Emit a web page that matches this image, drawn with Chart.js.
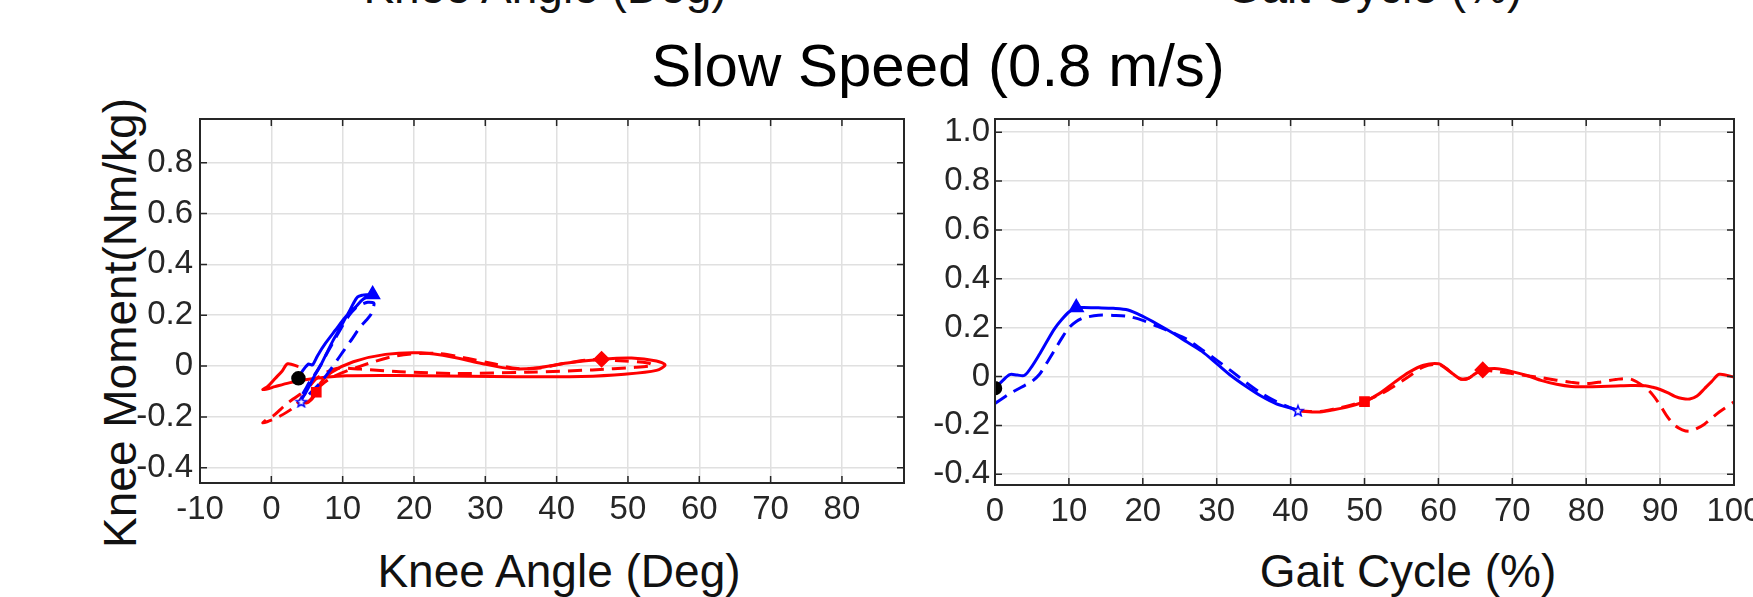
<!DOCTYPE html>
<html>
<head>
<meta charset="utf-8">
<title>Knee moment - slow speed</title>
<script src="https://cdn.jsdelivr.net/npm/chart.js@4.4.1/dist/chart.umd.min.js"></script>
<style>
  html, body { margin: 0; padding: 0; background: #fff; }
  body {
    position: relative; width: 1753px; height: 597px; overflow: hidden;
    font-family: "Liberation Sans", Arial, Helvetica, sans-serif; color: #111;
  }
  canvas { position: absolute; top: 0; }
  #loopChart { left: 0; }
  #cycleChart { left: 900px; }
  .txt { position: absolute; white-space: nowrap; line-height: 1; }
  .axisTitle { font-size: 46px; transform: translateX(-50%); }
  #mainTitle { font-size: 60px; left: 938px; top: 36px; transform: translateX(-50%); color: #000; }
  #angleTitle { left: 559px; top: 548px; }
  #cycleTitle { left: 1408px; top: 548px; }
  #prevAngleTitle { left: 545px; top: -36px; }
  #prevCycleTitle { left: 1374px; top: -36px; }
  #momentTitle { font-size: 46px; left: 120px; top: 323px; transform: translate(-50%, -50%) rotate(-90deg); }
</style>
</head>
<body>
<div class="txt axisTitle" id="prevAngleTitle">Knee Angle (Deg)</div>
<div class="txt axisTitle" id="prevCycleTitle">Gait Cycle (%)</div>
<div class="txt" id="mainTitle">Slow Speed (0.8 m/s)</div>
<div class="txt" id="momentTitle">Knee Moment(Nm/kg)</div>
<div class="txt axisTitle" id="angleTitle">Knee Angle (Deg)</div>
<div class="txt axisTitle" id="cycleTitle">Gait Cycle (%)</div>

<canvas id="loopChart" width="940" height="597"></canvas>
<canvas id="cycleChart" width="853" height="597"></canvas>

<script>
// gait cycle samples (%), shared by both panels
const gaitPct = [
  0, 1, 2, 3, 4, 5, 6, 7, 8, 9, 10, 11, 12, 14, 16, 18, 20, 22, 24, 26, 28, 30, 32, 34, 36, 38, 40, 41,
  42, 44, 46, 48, 50, 52, 54, 56, 58, 60, 61, 62, 63, 64, 65, 66, 68, 70, 72, 74, 76, 78, 80, 82, 84, 86, 88,
  89, 90, 91, 92, 93, 94, 95, 96, 97, 98, 100
];

// knee moment (Nm/kg)
const momentSolid = [
  -0.048, -0.018, 0.008, 0.006, 0.005, 0.042, 0.090, 0.142, 0.193, 0.232, 0.264, 0.282, 0.282,
  0.281, 0.279, 0.272, 0.246, 0.214, 0.179, 0.141, 0.103, 0.053, 0.002, -0.041, -0.080, -0.111, -0.129, -0.138,
  -0.143, -0.145, -0.135, -0.122, -0.103, -0.070, -0.025, 0.017, 0.046, 0.052,
  0.035, 0.010, -0.010, -0.008, 0.012, 0.027,
  0.032, 0.020, 0.004, -0.017, -0.032, -0.041, -0.042, -0.041, -0.039, -0.037, -0.038,
  -0.044, -0.053, -0.066, -0.081, -0.090, -0.092, -0.080, -0.050, -0.020, 0.009, -0.002
];
const momentDashed = [
  -0.110, -0.090, -0.070, -0.053, -0.037, -0.020, 0.008, 0.055, 0.105, 0.155, 0.199, 0.225, 0.240,
  0.251, 0.250, 0.246, 0.230, 0.205, 0.180, 0.152, 0.110, 0.067, 0.022, -0.025, -0.068, -0.102, -0.128, -0.138,
  -0.142, -0.143, -0.132, -0.118, -0.100, -0.075, -0.040, 0.000, 0.040, 0.050,
  0.033, 0.010, -0.010, -0.008, 0.010, 0.025,
  0.020, 0.012, 0.003, -0.005, -0.015, -0.024, -0.029, -0.022, -0.012, -0.010, -0.045,
  -0.075, -0.117, -0.165, -0.200, -0.218, -0.224, -0.212, -0.195, -0.170, -0.145, -0.104
];

// knee angle (deg)
const angleSolid = [
  3.8, 4.4, 5.2, 5.5, 5.8, 6.5, 7.6, 9.0, 10.4, 11.8, 12.9, 14.2, 14.1,
  13.5, 12.8, 12.1, 11.5, 10.9, 10.2, 9.5, 8.7, 7.8, 6.9, 6.0, 5.3, 4.7, 4.3, 4.2,
  4.5, 5.0, 5.5, 5.9, 6.3, 6.8, 8.4, 11.5, 16.0, 21.0,
  25.5, 29.5, 33.5, 37.0, 41.5, 46.3,
  50.5, 54.0, 55.2, 54.0, 49.5, 43.5, 37.5, 31.0, 24.5, 17.5, 10.5,
  7.5, 5.0, 2.5, 0.5, -0.6, -1.2, -0.5, 0.5, 1.5, 2.3, 3.8
];
const angleDashed = [
  4.4, 4.8, 5.2, 5.6, 6.0, 6.4, 7.0, 7.9, 8.9, 9.9, 10.9, 11.7, 12.5,
  13.5, 14.2, 14.4, 14.3, 14.0, 13.3, 12.4, 11.4, 10.3, 9.2, 8.0, 6.8, 5.6, 4.7, 4.3,
  4.6, 5.0, 5.5, 5.9, 6.3, 7.0, 8.8, 12.5, 17.5, 23.0,
  27.0, 31.0, 34.5, 37.5, 41.0, 45.0,
  49.5, 52.8, 53.5, 51.0, 45.0, 36.0, 26.0, 18.0, 12.5, 9.0, 6.5,
  5.5, 4.5, 3.0, 1.0, -0.5, -1.2, -0.7, 0.3, 1.3, 2.3, 4.4
];

// stance ends at this percentage (blue before, red after)
const stanceEndPct = 41;
// gait events marked on the solid curve
const eventPct = [0, 11, 41, 50, 66];

// tick values
const angleTicks = [-10, 0, 10, 20, 30, 40, 50, 60, 70, 80];
const loopMomentTicks = [-0.4, -0.2, 0, 0.2, 0.4, 0.6, 0.8];
const cycleTicks = [0, 10, 20, 30, 40, 50, 60, 70, 80, 90, 100];
const cycleMomentTicks = [-0.4, -0.2, 0, 0.2, 0.4, 0.6, 0.8, 1.0];

const FONT = '"Liberation Sans", Arial, Helvetica, sans-serif';
const INK = '#262626';
const BLUE = '#0000ff';
const RED = '#ff0000';

const split = gaitPct.indexOf(stanceEndPct);

function points(xs, ys, from, to) {
  const out = [];
  for (let i = from; i < to; i++) out.push({ x: xs[i], y: ys[i] });
  return out;
}

function lineSet(data, color, dashed) {
  return {
    data,
    showLine: true,
    borderColor: color,
    borderWidth: 3,
    borderDash: dashed ? [14, 8] : [],
    pointRadius: 0,
    pointHoverRadius: 0,
    tension: 0.3,
    fill: false,
    order: 2,
  };
}

// small five-pointed star, outlined, used for the toe-off marker
function pentagram(size, stroke) {
  const c = document.createElement('canvas');
  c.width = c.height = size;
  const g = c.getContext('2d');
  const r = size / 2 - 1.5;
  const cx = size / 2, cy = size / 2 + 1;
  g.beginPath();
  for (let k = 0; k < 10; k++) {
    const rad = k % 2 === 0 ? r : r * 0.42;
    const ang = -Math.PI / 2 + k * Math.PI / 5;
    g.lineTo(cx + rad * Math.cos(ang), cy + rad * Math.sin(ang));
  }
  g.closePath();
  g.fillStyle = '#fff';
  g.fill();
  g.strokeStyle = stroke;
  g.lineWidth = 1.5;
  g.stroke();
  return c;
}

const markerLook = [
  { pointStyle: 'circle', pointRadius: 6.5, backgroundColor: '#000', borderColor: '#000' },
  { pointStyle: 'triangle', pointRadius: 8, backgroundColor: BLUE, borderColor: BLUE },
  { pointStyle: pentagram(14, BLUE), pointRadius: 7 },
  { pointStyle: 'rect', pointRadius: 6.5, backgroundColor: RED, borderColor: RED },
  { pointStyle: 'rectRot', pointRadius: 7.5, backgroundColor: RED, borderColor: RED },
];

function markerSets(xs, ys) {
  return eventPct.map((pct, k) => {
    const i = gaitPct.indexOf(pct);
    return Object.assign({
      data: [{ x: xs[i], y: ys[i] }],
      showLine: false,
      borderWidth: 1.5,
      order: 0,
    }, markerLook[k]);
  });
}

function buildDatasets(xSolid, xDashed) {
  const n = gaitPct.length;
  return [
    lineSet(points(xSolid, momentSolid, 0, split + 1), BLUE, false),
    lineSet(points(xDashed, momentDashed, 0, split + 1), BLUE, true),
    lineSet(points(xSolid, momentSolid, split, n), RED, false),
    lineSet(points(xDashed, momentDashed, split, n), RED, true),
    ...markerSets(xSolid, momentSolid),
  ];
}

const fmtMoment = v => (v === 0 ? '0' : v.toFixed(1));
const fmtPlain = v => String(v);

function axis(min, max, values, fmt, fixed, isX, pad) {
  return {
    type: 'linear',
    min,
    max,
    afterBuildTicks: s => { s.ticks = values.map(value => ({ value })); },
    afterFit: s => {
      if (isX) { s.height = fixed; s.paddingLeft = 0; s.paddingRight = 0; }
      else { s.width = fixed; s.paddingTop = 0; s.paddingBottom = 0; }
    },
    grid: { color: '#e0e0e0', lineWidth: 1.5, drawTicks: false },
    border: { display: false },
    ticks: {
      autoSkip: false, maxRotation: 0, padding: pad, color: INK,
      font: { family: FONT, size: 33 }, callback: fmt,
    },
  };
}

// box around the plot area with inward tick marks on all four sides
const boxFrame = {
  id: 'boxFrame',
  afterDraw(chart) {
    const { ctx, chartArea: a, scales: { x, y } } = chart;
    const len = 7;
    ctx.save();
    ctx.strokeStyle = INK;
    ctx.lineWidth = 1.5;
    ctx.beginPath();
    x.ticks.forEach(t => {
      const px = x.getPixelForValue(t.value);
      ctx.moveTo(px, a.bottom); ctx.lineTo(px, a.bottom - len);
      ctx.moveTo(px, a.top); ctx.lineTo(px, a.top + len);
    });
    y.ticks.forEach(t => {
      const py = y.getPixelForValue(t.value);
      ctx.moveTo(a.left, py); ctx.lineTo(a.left + len, py);
      ctx.moveTo(a.right, py); ctx.lineTo(a.right - len, py);
    });
    ctx.stroke();
    ctx.lineWidth = 2;
    ctx.strokeRect(a.left, a.top, a.right - a.left, a.bottom - a.top);
    ctx.restore();
  },
};

const common = {
  responsive: false,
  devicePixelRatio: 1,
  animation: false,
  events: [],
  plugins: { legend: { display: false }, tooltip: { enabled: false } },
};

// knee moment against knee angle
new Chart(document.getElementById('loopChart'), {
  type: 'scatter',
  data: { datasets: buildDatasets(angleSolid, angleDashed) },
  options: Object.assign({}, common, {
    layout: { padding: { top: 119, right: 36, bottom: 0, left: 0 } },
    scales: {
      x: axis(-10, 88.7, angleTicks, fmtPlain, 114, true, 7),
      y: axis(-0.46, 0.972, loopMomentTicks, fmtMoment, 200, false, 7),
    },
  }),
  plugins: [boxFrame],
});

// knee moment over the gait cycle
new Chart(document.getElementById('cycleChart'), {
  type: 'scatter',
  data: { datasets: buildDatasets(gaitPct, gaitPct) },
  options: Object.assign({}, common, {
    layout: { padding: { top: 119, right: 19, bottom: 0, left: 0 } },
    scales: {
      x: axis(0, 100, cycleTicks, fmtPlain, 112, true, 7),
      y: axis(-0.444, 1.054, cycleMomentTicks, fmtMoment, 95, false, 5),
    },
  }),
  plugins: [boxFrame],
});
</script>
</body>
</html>
